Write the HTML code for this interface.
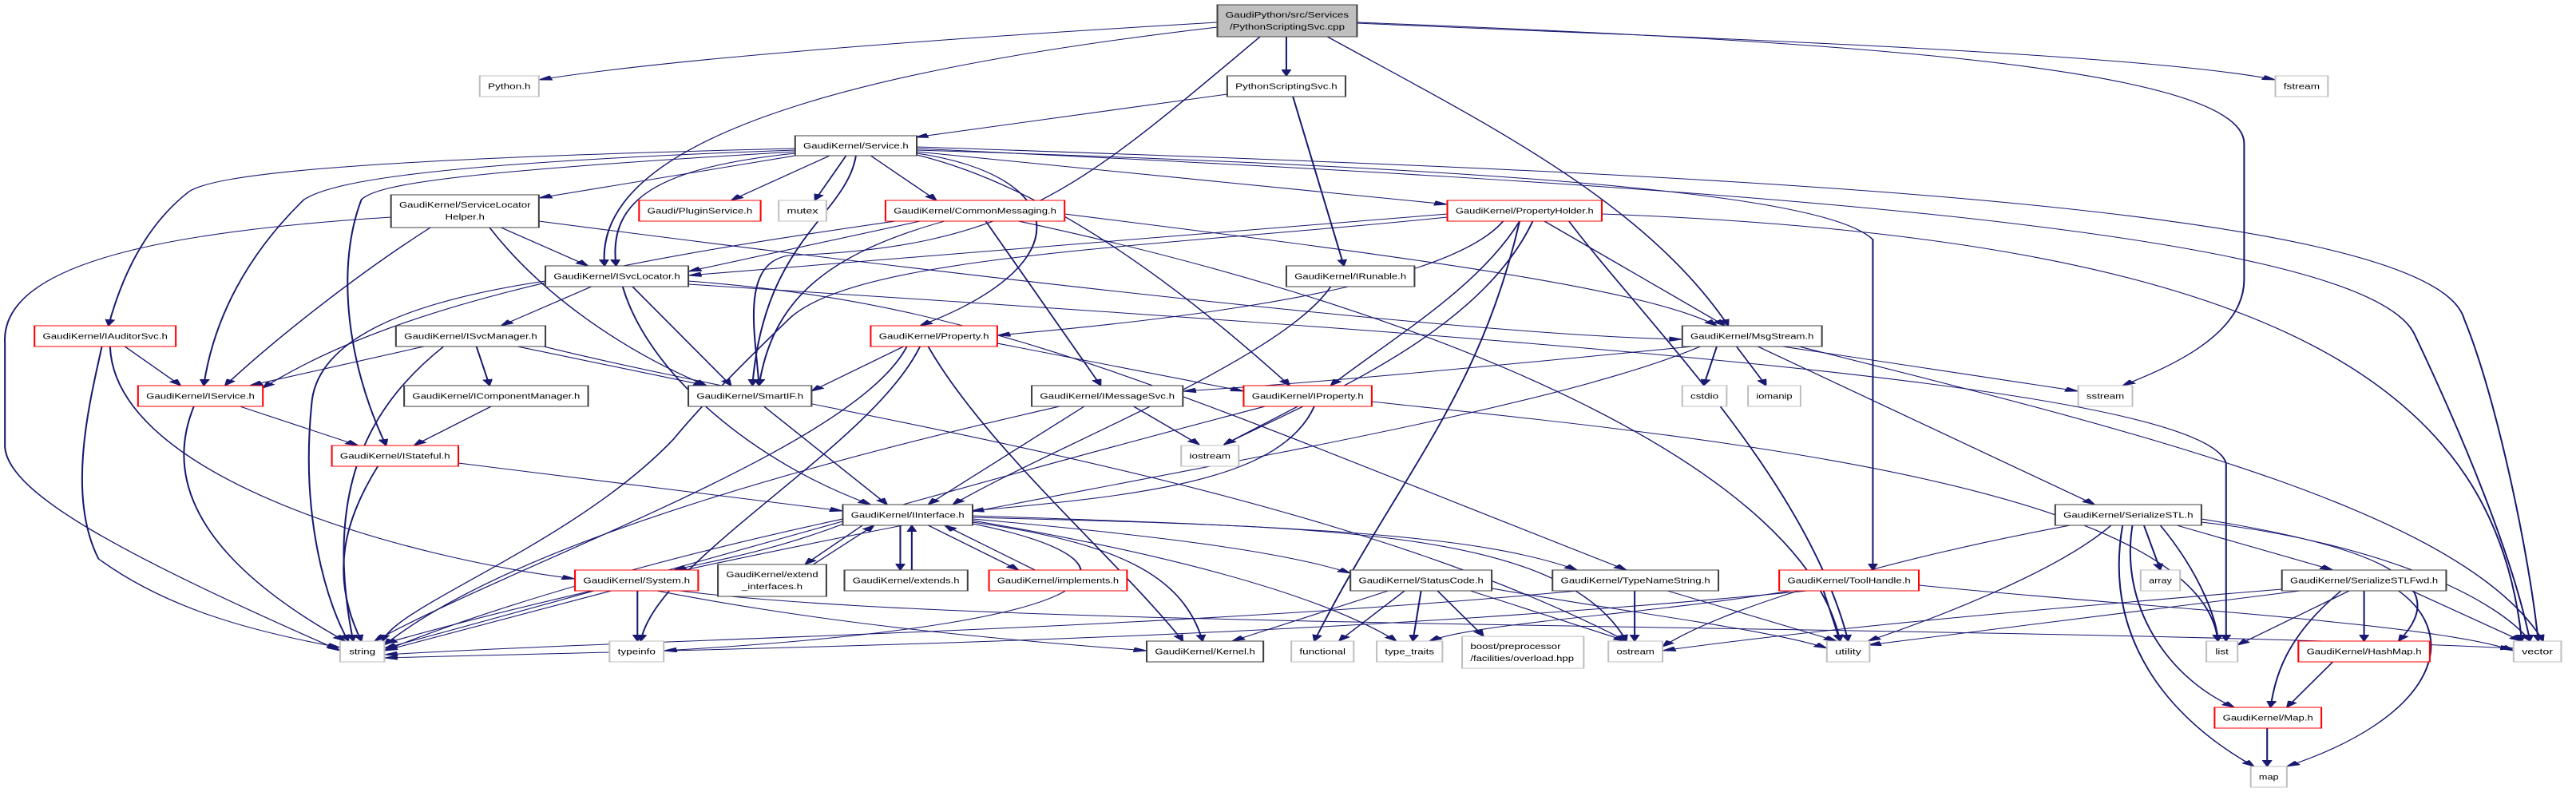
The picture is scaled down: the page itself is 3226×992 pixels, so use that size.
<!DOCTYPE html>
<html><head><meta charset="utf-8"><style>
html,body{margin:0;padding:0;background:#fff;}
svg{display:block;}
text{font-family:"Liberation Sans",sans-serif;font-size:10px;fill:#000;}
.e{fill:none;stroke:#191970;stroke-width:1;marker-end:url(#a);}
.b{fill:#fff;stroke:#404040;stroke-width:1;}
.r{fill:#fff;stroke:#ff0000;stroke-width:1;}
.g{fill:#fff;stroke:#bfbfbf;stroke-width:1;}
.t{fill:#bfbfbf;stroke:#404040;stroke-width:1;}
</style></head><body>
<svg width="3226" height="992" viewBox="0 0 1568 992" preserveAspectRatio="none" xmlns="http://www.w3.org/2000/svg">
<defs><marker id="a" viewBox="0 0 10 7" refX="10" refY="3.5" markerUnits="userSpaceOnUse" markerWidth="8" markerHeight="6" orient="auto"><path d="M0,0L10,3.5L0,7z" fill="#191970" stroke="#191970"/></marker></defs>
<g>
<!-- top -->
<path class="e" d="M741,28 C600,45 420,70 328,100"/>
<path class="e" d="M741,34 C550,80 360,160 368,333"/>
<path class="e" d="M783,46 L783,95"/>
<path class="e" d="M767,46 C660,230 620,310 480,320 C450,330 460,420 462,483"/>
<path class="e" d="M808,46 C900,150 1000,250 1052,408"/>
<path class="e" d="M826,28 C1100,50 1366,80 1366,180 L1366,350 C1366,420 1320,460 1292,483"/>
<path class="e" d="M826,29 C1000,45 1300,65 1385,100"/>
<path class="e" d="M747,118 L557,172"/>
<path class="e" d="M787,121 L818,333"/>
<!-- Service.h -->
<path class="e" d="M484,195 L328,248"/>
<path class="e" d="M505,195 L445,251"/>
<path class="e" d="M515,195 L496,251"/>
<path class="e" d="M530,195 L570,251"/>
<path class="e" d="M558,190 L881,256"/>
<path class="e" d="M484,192 C400,210 370,250 375,333"/>
<path class="e" d="M521,195 C515,270 465,300 458,483"/>
<path class="e" d="M484,186 C200,200 130,220 115,240 C90,280 75,340 66,408"/>
<path class="e" d="M484,188 C250,205 200,230 185,250 C150,320 130,400 124,483"/>
<path class="e" d="M484,190 C280,215 230,230 220,250 C205,330 210,450 235,558"/>
<path class="e" d="M558,192 C650,220 660,330 560,408"/>
<path class="e" d="M558,194 C650,240 740,400 785,483"/>
<path class="e" d="M558,188 C900,210 1110,240 1140,300 L1140,714"/>
<path class="e" d="M558,184 C1000,215 1480,250 1500,400 C1520,500 1540,700 1545,803"/>
<path class="e" d="M558,186 C1000,230 1440,280 1470,420 C1500,550 1530,700 1540,803"/>
<!-- SLH -->
<path class="e" d="M238,272 C100,290 0,330 3,430 L3,560 C5,620 80,700 207,815"/>
<path class="e" d="M262,285 C220,340 170,420 137,483"/>
<path class="e" d="M305,285 L358,333"/>
<path class="e" d="M298,285 C330,370 380,440 430,483"/>
<path class="e" d="M328,277 C600,350 900,420 1024,425"/>
<!-- ISvcLocator -->
<path class="e" d="M360,359 L305,408"/>
<path class="e" d="M385,359 L445,483"/>
<path class="e" d="M332,352 C240,380 195,430 190,500 C182,650 200,760 212,803"/>
<path class="e" d="M379,359 C395,470 460,580 530,632"/>
<path class="e" d="M419,352 C600,380 700,480 990,714"/>
<path class="e" d="M419,356 C900,420 1340,480 1355,580 L1355,803"/>
<!-- ISvcManager -->
<path class="e" d="M258,434 L152,483"/>
<path class="e" d="M290,434 L298,483"/>
<path class="e" d="M315,434 L430,483"/>
<path class="e" d="M270,434 C230,500 195,600 215,803"/>
<path class="e" d="M331,434 C500,520 800,600 990,803"/>
<!-- others -->
<path class="e" d="M299,509 L252,558"/>
<path class="e" d="M62,434 C55,500 40,620 60,700 C100,760 150,790 207,811"/>
<path class="e" d="M76,434 L110,483"/>
<path class="e" d="M67,434 C70,600 250,700 350,725"/>
<path class="e" d="M146,509 L218,558"/>
<path class="e" d="M118,509 C100,600 120,700 210,803"/>
<path class="e" d="M279,580 L513,640"/>
<path class="e" d="M230,584 C210,650 200,720 220,803"/>
<path class="e" d="M465,509 L540,632"/>
<!-- CommonMessaging -->
<path class="e" d="M560,277 L419,340"/>
<path class="e" d="M545,277 C400,320 250,370 160,486"/>
<path class="e" d="M575,277 C500,320 470,380 462,483"/>
<path class="e" d="M600,277 L670,483"/>
<path class="e" d="M648,268 C850,320 1000,360 1045,408"/>
<path class="e" d="M620,277 C900,400 1100,600 1120,803"/>
<!-- PropertyHolder -->
<path class="e" d="M881,268 L419,345"/>
<path class="e" d="M881,272 C700,310 520,320 480,400 C460,440 430,500 410,550 C350,680 240,760 233,803"/>
<path class="e" d="M915,277 C880,360 720,400 607,420"/>
<path class="e" d="M925,277 C900,360 850,420 810,483"/>
<path class="e" d="M940,277 L1050,408"/>
<path class="e" d="M933,277 C900,420 800,500 745,557"/>
<path class="e" d="M925,277 C900,500 850,600 800,803"/>
<path class="e" d="M955,277 C1000,400 1100,600 1125,803"/>
<path class="e" d="M975,268 C1400,300 1520,500 1535,803"/>
<!-- IRunable -->
<path class="e" d="M810,359 C780,450 640,560 580,632"/>
<!-- Property -->
<path class="e" d="M550,434 L494,490"/>
<path class="e" d="M607,430 L757,490"/>
<path class="e" d="M552,434 C520,560 320,700 228,803"/>
<path class="e" d="M565,434 C600,560 680,700 720,803"/>
<path class="e" d="M560,434 C530,560 400,700 390,803"/>
<!-- MsgStream -->
<path class="e" d="M1030,434 C900,460 800,480 720,490"/>
<path class="e" d="M1045,434 L1037,483"/>
<path class="e" d="M1057,434 L1075,483"/>
<path class="e" d="M1085,434 L1265,490"/>
<path class="e" d="M1035,434 C900,550 500,650 234,806"/>
<path class="e" d="M1070,434 L1275,632"/>
<path class="e" d="M1095,434 C1300,540 1500,640 1548,803"/>
<!-- IMessageSvc / IProperty -->
<path class="e" d="M660,509 L565,632"/>
<path class="e" d="M690,509 L730,557"/>
<path class="e" d="M645,509 C450,600 300,700 234,808"/>
<path class="e" d="M790,509 L745,557"/>
<path class="e" d="M800,509 C780,600 700,620 591,640"/>
<path class="e" d="M770,509 C600,600 400,720 234,812"/>
<path class="e" d="M835,503 C1000,540 1340,600 1350,803"/>
<!-- Interface -->
<path class="e" d="M548,658 L548,714"/>
<path class="e" d="M555,714 L555,658"/>
<path class="e" d="M525,658 L490,707"/>
<path class="e" d="M495,707 L532,658"/>
<path class="e" d="M565,658 L620,714"/>
<path class="e" d="M630,714 L575,658"/>
<path class="e" d="M515,655 C470,690 440,700 410,714"/>
<path class="e" d="M592,650 C700,670 780,690 822,718"/>
<path class="e" d="M592,654 C680,680 720,720 732,803"/>
<path class="e" d="M592,656 C700,700 700,780 404,815"/>
<path class="e" d="M592,652 C700,690 800,740 850,803"/>
<path class="e" d="M592,648 C800,660 950,660 990,803"/>
<path class="e" d="M592,646 C800,660 900,670 960,714"/>
<path class="e" d="M513,650 C400,700 300,760 234,815"/>
<!-- System -->
<path class="e" d="M372,740 L234,815"/>
<path class="e" d="M388,740 L388,803"/>
<path class="e" d="M400,740 C500,780 600,800 698,815"/>
<path class="e" d="M414,740 C600,790 1200,780 1530,812"/>
<!-- StatusCode -->
<path class="e" d="M845,740 L750,803"/>
<path class="e" d="M855,740 L815,803"/>
<path class="e" d="M865,740 L860,803"/>
<path class="e" d="M875,740 L903,797"/>
<path class="e" d="M895,740 L990,803"/>
<path class="e" d="M908,737 C1000,770 1080,790 1112,812"/>
<!-- TypeNameString -->
<path class="e" d="M995,740 L995,803"/>
<path class="e" d="M960,740 C700,790 400,800 234,820"/>
<path class="e" d="M1015,740 L1118,803"/>
<!-- ToolHandle -->
<path class="e" d="M1100,740 C800,800 500,810 234,824"/>
<path class="e" d="M1090,740 C1000,770 900,780 870,803"/>
<path class="e" d="M1168,733 C1300,760 1480,780 1530,815"/>
<path class="e" d="M1110,740 L1120,803"/>
<!-- SerializeSTL -->
<path class="e" d="M1260,658 C1150,700 1050,760 1012,810"/>
<path class="e" d="M1285,658 C1250,720 1170,780 1137,803"/>
<path class="e" d="M1305,658 L1315,714"/>
<path class="e" d="M1315,658 C1340,720 1350,780 1350,803"/>
<path class="e" d="M1325,658 L1420,714"/>
<path class="e" d="M1298,658 C1290,760 1320,850 1360,886"/>
<path class="e" d="M1292,658 C1280,800 1320,900 1372,960"/>
<path class="e" d="M1340,650 C1430,680 1500,720 1460,803"/>
<path class="e" d="M1340,654 C1450,680 1520,750 1540,803"/>
<!-- SerializeSTLFwd -->
<path class="e" d="M1389,738 C1200,770 1100,790 1012,815"/>
<path class="e" d="M1400,740 L1137,808"/>
<path class="e" d="M1430,740 L1362,808"/>
<path class="e" d="M1439,740 L1439,803"/>
<path class="e" d="M1425,740 C1390,800 1385,850 1382,886"/>
<path class="e" d="M1460,740 C1500,800 1480,900 1392,960"/>
<path class="e" d="M1468,740 L1535,803"/>
<path class="e" d="M1420,829 L1392,886"/>
<path class="e" d="M1380,912 L1380,960"/>
</g>
<g>
<rect class="t" x="741" y="6" width="85" height="40"/>
<text x="783.5" y="22" text-anchor="middle" textLength="75" lengthAdjust="spacingAndGlyphs">GaudiPython/src/Services</text>
<text x="783.5" y="37" text-anchor="middle" textLength="70" lengthAdjust="spacingAndGlyphs">/PythonScriptingSvc.cpp</text>
</g>
<g id="n">
<rect class="g" x="292" y="95" width="36" height="26"/><text x="310" y="111.5" text-anchor="middle" textLength="26" lengthAdjust="spacingAndGlyphs">Python.h</text>
<rect class="b" x="747" y="95" width="72" height="26"/><text x="783" y="111.5" text-anchor="middle" textLength="62" lengthAdjust="spacingAndGlyphs">PythonScriptingSvc.h</text>
<rect class="g" x="1385" y="95" width="32" height="26"/><text x="1401" y="111.5" text-anchor="middle" textLength="22" lengthAdjust="spacingAndGlyphs">fstream</text>
<rect class="b" x="484" y="170" width="74" height="25"/><text x="521" y="186" text-anchor="middle" textLength="64" lengthAdjust="spacingAndGlyphs">GaudiKernel/Service.h</text>
<rect class="b" x="238" y="244" width="90" height="41"/><text x="283" y="260" text-anchor="middle" textLength="80" lengthAdjust="spacingAndGlyphs">GaudiKernel/ServiceLocator</text><text x="283" y="275" text-anchor="middle" textLength="24" lengthAdjust="spacingAndGlyphs">Helper.h</text>
<rect class="r" x="389" y="251" width="74" height="26"/><text x="426" y="267.5" text-anchor="middle" textLength="64" lengthAdjust="spacingAndGlyphs">Gaudi/PluginService.h</text>
<rect class="g" x="474" y="251" width="29" height="26"/><text x="488.5" y="267.5" text-anchor="middle" textLength="19" lengthAdjust="spacingAndGlyphs">mutex</text>
<rect class="r" x="539" y="251" width="109" height="26"/><text x="593.5" y="267.5" text-anchor="middle" textLength="99" lengthAdjust="spacingAndGlyphs">GaudiKernel/CommonMessaging.h</text>
<rect class="r" x="881" y="251" width="94" height="26"/><text x="928" y="267.5" text-anchor="middle" textLength="84" lengthAdjust="spacingAndGlyphs">GaudiKernel/PropertyHolder.h</text>
<rect class="b" x="332" y="333" width="87" height="26"/><text x="375.5" y="349.5" text-anchor="middle" textLength="77" lengthAdjust="spacingAndGlyphs">GaudiKernel/ISvcLocator.h</text>
<rect class="b" x="783" y="333" width="78" height="26"/><text x="822" y="349.5" text-anchor="middle" textLength="68" lengthAdjust="spacingAndGlyphs">GaudiKernel/IRunable.h</text>
<rect class="r" x="21" y="408" width="86" height="26"/><text x="64" y="424.5" text-anchor="middle" textLength="76" lengthAdjust="spacingAndGlyphs">GaudiKernel/IAuditorSvc.h</text>
<rect class="b" x="241" y="408" width="91" height="26"/><text x="286.5" y="424.5" text-anchor="middle" textLength="81" lengthAdjust="spacingAndGlyphs">GaudiKernel/ISvcManager.h</text>
<rect class="r" x="530" y="408" width="77" height="26"/><text x="568.5" y="424.5" text-anchor="middle" textLength="67" lengthAdjust="spacingAndGlyphs">GaudiKernel/Property.h</text>
<rect class="b" x="1024" y="408" width="85" height="26"/><text x="1066.5" y="424.5" text-anchor="middle" textLength="75" lengthAdjust="spacingAndGlyphs">GaudiKernel/MsgStream.h</text>
<rect class="r" x="84" y="483" width="76" height="26"/><text x="122" y="499.5" text-anchor="middle" textLength="66" lengthAdjust="spacingAndGlyphs">GaudiKernel/IService.h</text>
<rect class="b" x="246" y="483" width="112" height="26"/><text x="302" y="499.5" text-anchor="middle" textLength="102" lengthAdjust="spacingAndGlyphs">GaudiKernel/IComponentManager.h</text>
<rect class="b" x="419" y="483" width="75" height="26"/><text x="456.5" y="499.5" text-anchor="middle" textLength="65" lengthAdjust="spacingAndGlyphs">GaudiKernel/SmartIF.h</text>
<rect class="b" x="628" y="483" width="92" height="26"/><text x="674" y="499.5" text-anchor="middle" textLength="82" lengthAdjust="spacingAndGlyphs">GaudiKernel/IMessageSvc.h</text>
<rect class="r" x="757" y="483" width="78" height="26"/><text x="796" y="499.5" text-anchor="middle" textLength="68" lengthAdjust="spacingAndGlyphs">GaudiKernel/IProperty.h</text>
<rect class="g" x="1024" y="483" width="27" height="26"/><text x="1037.5" y="499.5" text-anchor="middle" textLength="17" lengthAdjust="spacingAndGlyphs">cstdio</text>
<rect class="g" x="1064" y="483" width="32" height="26"/><text x="1080" y="499.5" text-anchor="middle" textLength="22" lengthAdjust="spacingAndGlyphs">iomanip</text>
<rect class="g" x="1265" y="483" width="33" height="26"/><text x="1281.5" y="499.5" text-anchor="middle" textLength="23" lengthAdjust="spacingAndGlyphs">sstream</text>
<rect class="r" x="202" y="558" width="77" height="26"/><text x="240.5" y="574.5" text-anchor="middle" textLength="67" lengthAdjust="spacingAndGlyphs">GaudiKernel/IStateful.h</text>
<rect class="g" x="719" y="558" width="35" height="26"/><text x="736.5" y="574.5" text-anchor="middle" textLength="25" lengthAdjust="spacingAndGlyphs">iostream</text>
<rect class="b" x="513" y="632" width="79" height="26"/><text x="552.5" y="648.5" text-anchor="middle" textLength="69" lengthAdjust="spacingAndGlyphs">GaudiKernel/IInterface.h</text>
<rect class="b" x="1251" y="632" width="89" height="26"/><text x="1295.5" y="648.5" text-anchor="middle" textLength="79" lengthAdjust="spacingAndGlyphs">GaudiKernel/SerializeSTL.h</text>
<rect class="r" x="350" y="714" width="75" height="26"/><text x="387.5" y="730.5" text-anchor="middle" textLength="65" lengthAdjust="spacingAndGlyphs">GaudiKernel/System.h</text>
<rect class="b" x="437" y="707" width="66" height="40"/><text x="470" y="723" text-anchor="middle" textLength="56" lengthAdjust="spacingAndGlyphs">GaudiKernel/extend</text><text x="470" y="738" text-anchor="middle" textLength="37" lengthAdjust="spacingAndGlyphs">_interfaces.h</text>
<rect class="b" x="514" y="714" width="75" height="26"/><text x="551.5" y="730.5" text-anchor="middle" textLength="65" lengthAdjust="spacingAndGlyphs">GaudiKernel/extends.h</text>
<rect class="r" x="602" y="714" width="84" height="26"/><text x="644" y="730.5" text-anchor="middle" textLength="74" lengthAdjust="spacingAndGlyphs">GaudiKernel/implements.h</text>
<rect class="b" x="822" y="714" width="86" height="26"/><text x="865" y="730.5" text-anchor="middle" textLength="76" lengthAdjust="spacingAndGlyphs">GaudiKernel/StatusCode.h</text>
<rect class="b" x="945" y="714" width="101" height="26"/><text x="995.5" y="730.5" text-anchor="middle" textLength="91" lengthAdjust="spacingAndGlyphs">GaudiKernel/TypeNameString.h</text>
<rect class="r" x="1083" y="714" width="85" height="26"/><text x="1125.5" y="730.5" text-anchor="middle" textLength="75" lengthAdjust="spacingAndGlyphs">GaudiKernel/ToolHandle.h</text>
<rect class="g" x="1303" y="714" width="24" height="26"/><text x="1315" y="730.5" text-anchor="middle" textLength="14" lengthAdjust="spacingAndGlyphs">array</text>
<rect class="b" x="1389" y="714" width="100" height="26"/><text x="1439" y="730.5" text-anchor="middle" textLength="90" lengthAdjust="spacingAndGlyphs">GaudiKernel/SerializeSTLFwd.h</text>
<rect class="g" x="207" y="803" width="27" height="26"/><text x="220.5" y="819.5" text-anchor="middle" textLength="16" lengthAdjust="spacingAndGlyphs">string</text>
<rect class="g" x="371" y="803" width="33" height="26"/><text x="387.5" y="819.5" text-anchor="middle" textLength="23" lengthAdjust="spacingAndGlyphs">typeinfo</text>
<rect class="b" x="698" y="803" width="71" height="26"/><text x="733.5" y="819.5" text-anchor="middle" textLength="61" lengthAdjust="spacingAndGlyphs">GaudiKernel/Kernel.h</text>
<rect class="g" x="786" y="803" width="38" height="26"/><text x="805" y="819.5" text-anchor="middle" textLength="28" lengthAdjust="spacingAndGlyphs">functional</text>
<rect class="g" x="838" y="803" width="40" height="26"/><text x="858" y="819.5" text-anchor="middle" textLength="30" lengthAdjust="spacingAndGlyphs">type_traits</text>
<rect class="g" x="890" y="797" width="74" height="40"/><text x="895" y="813" textLength="55" lengthAdjust="spacingAndGlyphs">boost/preprocessor</text><text x="895" y="828" textLength="63" lengthAdjust="spacingAndGlyphs">/facilities/overload.hpp</text>
<rect class="g" x="979" y="803" width="33" height="26"/><text x="995.5" y="819.5" text-anchor="middle" textLength="23" lengthAdjust="spacingAndGlyphs">ostream</text>
<rect class="g" x="1112" y="803" width="26" height="26"/><text x="1125" y="819.5" text-anchor="middle" textLength="16" lengthAdjust="spacingAndGlyphs">utility</text>
<rect class="g" x="1343" y="803" width="19" height="26"/><text x="1352.5" y="819.5" text-anchor="middle" textLength="8" lengthAdjust="spacingAndGlyphs">list</text>
<rect class="r" x="1399" y="803" width="80" height="26"/><text x="1439" y="819.5" text-anchor="middle" textLength="70" lengthAdjust="spacingAndGlyphs">GaudiKernel/HashMap.h</text>
<rect class="g" x="1530" y="803" width="29" height="26"/><text x="1544.5" y="819.5" text-anchor="middle" textLength="19" lengthAdjust="spacingAndGlyphs">vector</text>
<rect class="r" x="1348" y="886" width="65" height="26"/><text x="1380.5" y="902.5" text-anchor="middle" textLength="55" lengthAdjust="spacingAndGlyphs">GaudiKernel/Map.h</text>
<rect class="g" x="1370" y="960" width="22" height="26"/><text x="1381" y="976.5" text-anchor="middle" textLength="12" lengthAdjust="spacingAndGlyphs">map</text>
</g>
</svg>
</body></html>
